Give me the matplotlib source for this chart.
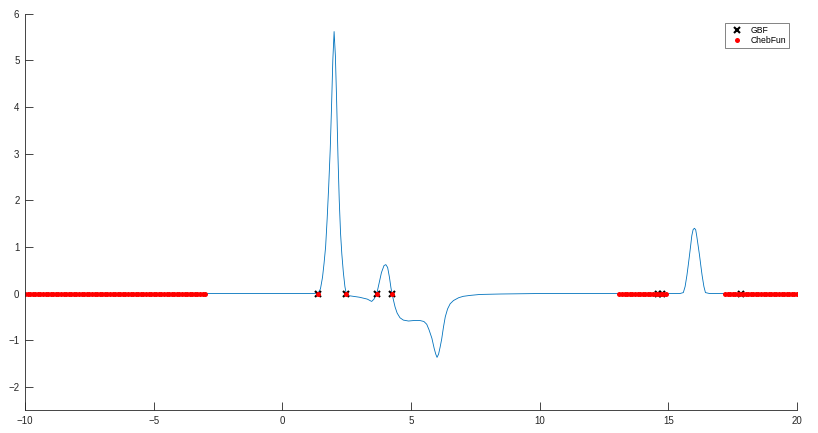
import matplotlib.pyplot as plt

plt.rcParams['font.family'] = ['Liberation Sans', 'DejaVu Sans']

# function curve
x_curve = [-10, 1.2, 1.39, 1.48, 1.56, 1.62, 1.68, 1.74, 1.80, 1.86, 1.91, 1.96, 2.01,
           2.06, 2.11, 2.16, 2.21, 2.26, 2.31, 2.37, 2.43, 2.48, 2.55, 2.63,
           3.0, 3.3, 3.47, 3.56, 3.62, 3.67, 3.75, 3.85, 3.95, 4.02, 4.09, 4.16, 4.22, 4.26,
           4.32, 4.38, 4.46, 4.57, 4.7, 4.9, 5.1, 5.35, 5.5, 5.61, 5.7, 5.81, 5.9, 5.96,
           6.01, 6.07, 6.13, 6.19, 6.26, 6.33, 6.42, 6.52, 6.65, 6.85, 7.03, 7.3, 7.68,
           8.5, 10, 15.45, 15.58, 15.65, 15.72, 15.77, 15.82, 15.87, 15.91, 15.96, 16.01,
           16.06, 16.10, 16.15, 16.21, 16.26, 16.31, 16.38, 16.44, 16.6, 20]
y_curve = [0, 0, 0.01, 0.1, 0.35, 0.65, 1.0, 1.6, 2.3, 3.1, 4.0, 5.0, 5.62,
           5.1, 4.1, 2.95, 2.0, 1.3, 0.85, 0.45, 0.15, 0.0, -0.05, -0.05,
           -0.08, -0.12, -0.17, -0.12, -0.05, 0.0, 0.2, 0.45, 0.6, 0.62, 0.56, 0.35, 0.12, 0.0,
           -0.15, -0.29, -0.42, -0.52, -0.57, -0.59, -0.58, -0.58, -0.6, -0.66, -0.78, -0.96, -1.18, -1.3,
           -1.37, -1.3, -1.15, -0.98, -0.72, -0.5, -0.33, -0.22, -0.15, -0.09, -0.06, -0.04, -0.02,
           -0.01, 0, 0.0, 0.02, 0.15, 0.39, 0.6, 0.82, 1.05, 1.24, 1.37, 1.40,
           1.37, 1.24, 1.05, 0.82, 0.6, 0.39, 0.15, 0.02, 0.0, 0]

# GBF roots
x_gbf = [1.39, 2.48, 3.68, 4.26, 14.6, 14.76, 17.83]
y_gbf = [0, 0, 0, 0, 0, 0, 0]

# ChebFun roots
x_cheb = [-10.0, -9.9, -9.8, -9.7, -9.6, -9.5, -9.4, -9.3, -9.2, -9.1,
          -9.0, -8.9, -8.8, -8.7, -8.6, -8.5, -8.4, -8.3, -8.2, -8.1,
          -8.0, -7.9, -7.8, -7.7, -7.6, -7.5, -7.4, -7.3, -7.2, -7.1,
          -7.0, -6.9, -6.8, -6.7, -6.6, -6.5, -6.4, -6.3, -6.2, -6.1,
          -6.0, -5.9, -5.8, -5.7, -5.6, -5.5, -5.4, -5.3, -5.2, -5.1,
          -5.0, -4.9, -4.8, -4.7, -4.6, -4.5, -4.4, -4.3, -4.2, -4.1,
          -4.0, -3.9, -3.8, -3.7, -3.6, -3.5, -3.4, -3.3, -3.2, -3.1, -3.0,
          1.39, 2.48, 3.68, 4.26,
          13.1, 13.2, 13.3, 13.4, 13.5, 13.6, 13.7, 13.8, 13.9, 14.0,
          14.1, 14.2, 14.3, 14.4, 14.5, 14.6, 14.7, 14.8, 14.9,
          17.2, 17.3, 17.4, 17.5, 17.6, 17.7, 17.8, 17.9, 18.0, 18.1,
          18.2, 18.3, 18.4, 18.5, 18.6, 18.7, 18.8, 18.9, 19.0, 19.1,
          19.2, 19.3, 19.4, 19.5, 19.6, 19.7, 19.8, 19.9, 20.0]
y_cheb = [0] * len(x_cheb)

fig = plt.figure(figsize=(8.18, 4.33), dpi=100)
ax = fig.add_axes([0.0306, 0.053, 0.9438, 0.915])

ax.plot(x_curve, y_curve, color='#0072BD', linewidth=0.6, label='_nolegend_')
ax.plot(x_gbf, y_gbf, 'x', color='black', markersize=5, markeredgewidth=1.5, label='GBF')
ax.plot(x_cheb, y_cheb, 'o', color='red', markersize=3.6, markeredgewidth=0, label='ChebFun')

ax.set_xlim(-10, 20)
ax.set_ylim(-2.5, 6)
ax.set_xticks([-10, -5, 0, 5, 10, 15, 20])
ax.set_yticks([-2, -1, 0, 1, 2, 3, 4, 5, 6])

axis_col = '#262626'
for side in ['top', 'right']:
    ax.spines[side].set_visible(False)
for side in ['left', 'bottom']:
    ax.spines[side].set_color(axis_col)
    ax.spines[side].set_linewidth(0.6)
ax.tick_params(direction='in', length=6, width=0.6, colors=axis_col,
               labelsize=7, pad=4)

leg = ax.legend(loc='upper right', bbox_to_anchor=(0.9896, 0.977), borderaxespad=0,
                fontsize=6.2, frameon=True, fancybox=False, edgecolor='#262626',
                handlelength=2.0, handletextpad=0.6, borderpad=0.35, labelspacing=0.15)
leg.get_frame().set_linewidth(0.5)

fig.savefig('out.png', dpi=100)
